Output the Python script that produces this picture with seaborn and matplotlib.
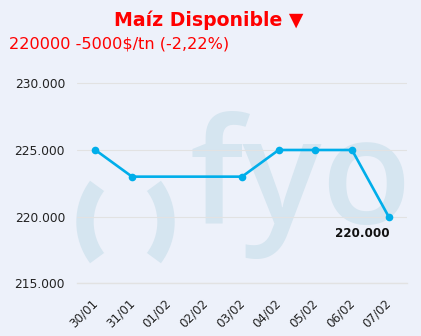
import matplotlib
matplotlib.use("Agg")
import matplotlib.pyplot as plt
import matplotlib.dates as mdates
import matplotlib.transforms as mtransforms
from matplotlib.patches import Arc
import seaborn as sns
import pandas as pd
import numpy as np

# ---- data ----
dates = ["2025-01-30", "2025-01-31", "2025-02-03", "2025-02-04",
         "2025-02-05", "2025-02-06", "2025-02-07"]
prices = [225000, 223000, 223000, 225000, 225000, 225000, 220000]
tick_days = pd.date_range("2025-01-30", "2025-02-07", freq="D")
y_ticks = [215000, 220000, 225000, 230000]
title = "Maíz Disponible ▼"
subtitle = "220000 -5000$/tn (-2,22%)"
last_label = "220.000"

df = pd.DataFrame({"fecha": pd.to_datetime(dates), "precio": prices})

BG = "#EDF1FA"
WM = "#D5E5F0"
LINE = "#00AEEA"
GRID = "#E2E2E2"

sns.set_theme(style="white")
plt.rcParams["font.family"] = ["DejaVu Sans"]

fig = plt.figure(figsize=(4.21, 3.36), dpi=100, facecolor=BG)

# watermark layer (pixel coordinates)
bg = fig.add_axes([0, 0, 1, 1], zorder=-1)
bg.set_xlim(0, 421)
bg.set_ylim(336, 0)
bg.axis("off")
bg.text(189, 224, "fyo", family="Open Sans", fontweight="semibold",
        fontsize=106, color=WM, ha="left", va="baseline")
bg.add_patch(Arc((145, 222), 120, 120, theta1=143, theta2=217,
                 color=WM, lw=12.5, capstyle="butt"))
bg.add_patch(Arc((106, 222), 120, 120, theta1=-37, theta2=37,
                 color=WM, lw=12.5, capstyle="butt"))

ax = fig.add_axes([77 / 421, (336 - 283.3) / 336, 330 / 421, 213.3 / 336])
ax.patch.set_alpha(0)

sns.lineplot(data=df, x="fecha", y="precio", ax=ax, color=LINE, lw=1.9,
             marker="o", markersize=5.5, markeredgewidth=0, zorder=5)

x0 = tick_days[0] - pd.Timedelta(hours=12)
x1 = tick_days[-1] + pd.Timedelta(hours=12)
ax.set_xlim(x0, x1)
ax.set_ylim(215000, 231000)

ax.set_xticks(tick_days)
ax.xaxis.set_major_formatter(mdates.DateFormatter("%d/%m"))
minor = pd.date_range(x0, x1, freq="D")
ax.set_xticks(minor, minor=True)
ax.tick_params(axis="x", which="major", length=0, pad=6, labelsize=8.6,
               colors="#222222")
ax.tick_params(axis="x", which="minor", length=4, color=GRID, width=1)
shift = mtransforms.ScaledTranslation(-4 / 100, -5 / 100, fig.dpi_scale_trans)
for lab in ax.get_xticklabels():
    lab.set_rotation(45)
    lab.set_ha("right")
    lab.set_rotation_mode("anchor")
    lab.set_transform(lab.get_transform() + shift)

ax.set_yticks(y_ticks)
ax.set_yticklabels([f"{v:,.0f}".replace(",", ".") for v in y_ticks])
ax.tick_params(axis="y", length=0, pad=8.6, labelsize=8.8, colors="#222222")
ax.grid(axis="y", color=GRID, lw=0.8)
ax.set_axisbelow(True)

for s in ["top", "right", "left"]:
    ax.spines[s].set_visible(False)
ax.spines["bottom"].set_color(GRID)
ax.spines["bottom"].set_linewidth(1)
ax.set_xlabel("")
ax.set_ylabel("")

ax.annotate(last_label, xy=(df["fecha"].iloc[-1], df["precio"].iloc[-1]),
            xytext=(1, -7.5), textcoords="offset points", ha="right",
            va="top", fontsize=8.6, fontweight="bold", color="#111111")

fig.text(209 / 421, 1 - 20 / 336, title, ha="center", va="center",
         fontsize=13.6, fontweight="bold", color="#FF0000")
fig.text(9 / 421, 1 - 44 / 336, subtitle, ha="left", va="center",
         fontsize=11.6, color="#FF0000")

fig.savefig("out.png", dpi=100, facecolor=BG)
